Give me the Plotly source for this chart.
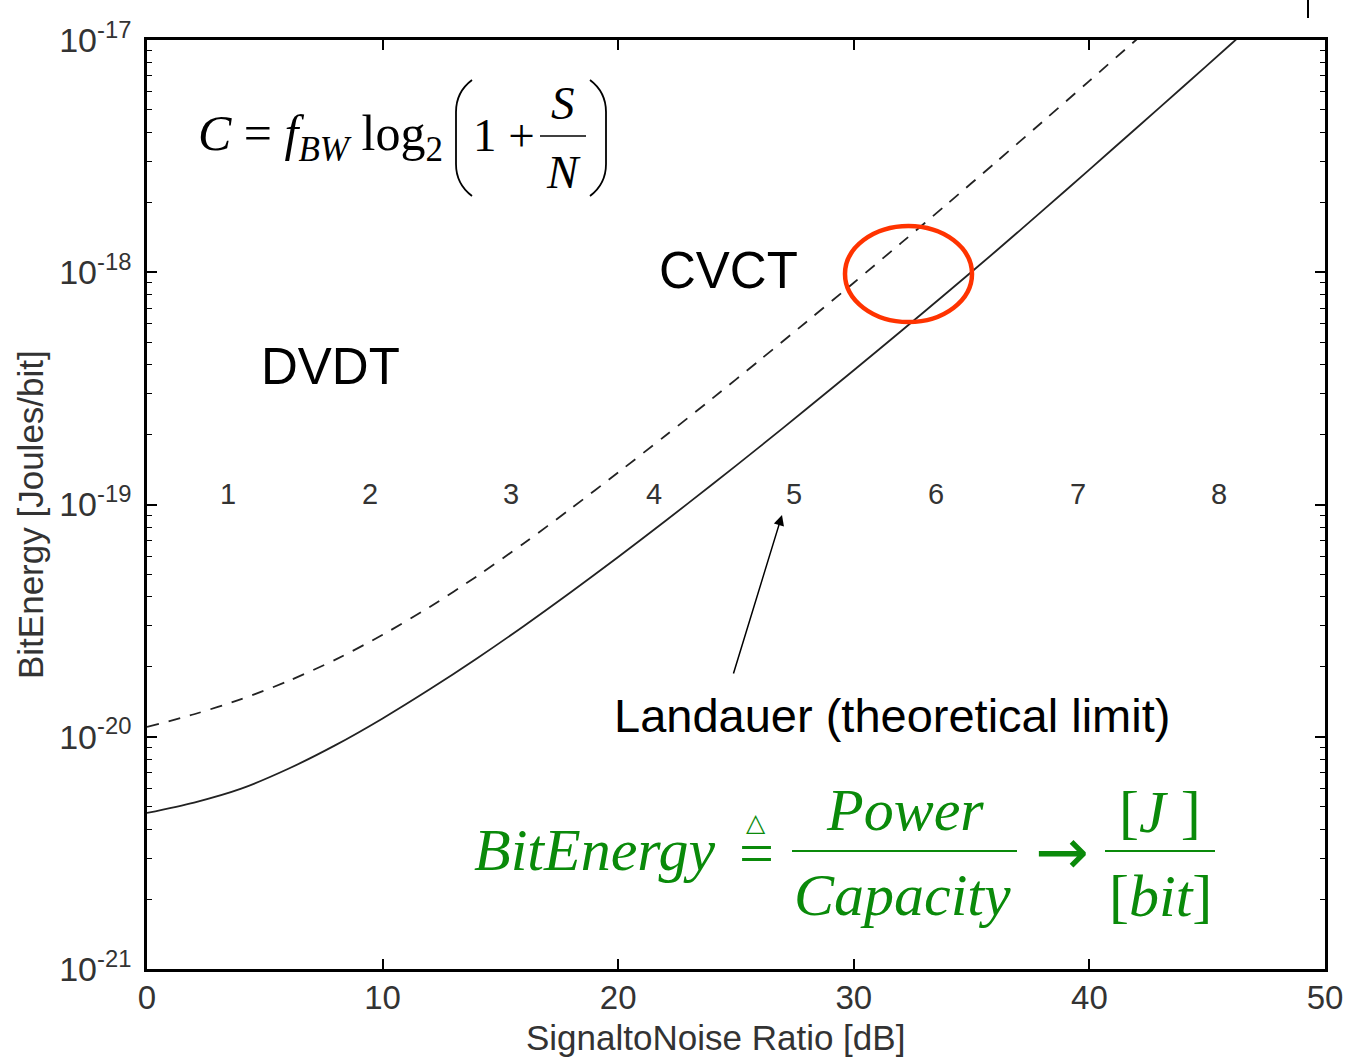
import plotly.graph_objects as go

# ---------------- data ----------------
snr_db_landauer = [0, 2, 4, 6, 8, 10, 12, 14, 16, 18, 20, 22, 24, 26, 28, 30,
                   32, 34, 36, 38, 40, 42, 44, 46, 47]
energy_landauer = [4.70e-21, 5.21e-21, 5.98e-21, 7.28e-21, 9.20e-21, 1.199e-20,
                   1.600e-20, 2.173e-20, 3.00e-20, 4.20e-20, 5.94e-20, 8.49e-20,
                   1.222e-19, 1.770e-19, 2.582e-19, 3.784e-19, 5.57e-19, 8.24e-19,
                   1.225e-18, 1.837e-18, 2.767e-18, 4.18e-18, 6.32e-18, 9.59e-18,
                   1.180e-17]

snr_db_cvct = [0, 2, 4, 6, 8, 10, 12, 14, 16, 18, 20, 22, 24, 26, 28, 30,
               32, 34, 36, 38, 40, 42, 43]
energy_cvct = [1.102e-20, 1.250e-20, 1.452e-20, 1.738e-20, 2.148e-20, 2.748e-20,
               3.622e-20, 4.909e-20, 6.808e-20, 9.616e-20, 1.374e-19, 1.977e-19,
               2.864e-19, 4.178e-19, 6.124e-19, 9.016e-19, 1.334e-18, 1.982e-18,
               2.958e-18, 4.436e-18, 6.668e-18, 1.005e-17, 1.233e-17]

bit_labels = ["1", "2", "3", "4", "5", "6", "7", "8"]
bit_label_x = [3.45, 9.45, 15.45, 21.5, 27.45, 33.5, 39.5, 45.5]

x_ticks = [0, 10, 20, 30, 40, 50]
y_tick_exps = [-21, -20, -19, -18, -17]
y_ticks = [10.0 ** e for e in y_tick_exps]
y_ticktext = ["10<sup>%d</sup>" % e for e in y_tick_exps]
y_minor = [k * 10.0 ** e for e in range(-21, -17) for k in range(2, 10)]

# ---------------- layout helpers ----------------
W, H = 1347, 1060
L, R, T, B = 147, 1325, 40, 969


def pxx(xp):
    return (xp - L) / (R - L)


def pxy(yp):
    return (B - yp) / (B - T)


SANS = "Liberation Sans, Arial, sans-serif"
SERIF = "Liberation Serif, Times New Roman, serif"
GREEN = "#0a8a0a"
GRAY = "#333333"

fig = go.Figure()
fig.add_trace(go.Scatter(x=snr_db_cvct, y=energy_cvct, mode="lines",
                         line=dict(color="#222222", width=1.8, dash="12px,10px",
                                   shape="spline", smoothing=0.8),
                         showlegend=False, name="CVCT"))
fig.add_trace(go.Scatter(x=snr_db_landauer, y=energy_landauer, mode="lines",
                         line=dict(color="#222222", width=1.8,
                                   shape="spline", smoothing=0.8),
                         showlegend=False, name="Landauer"))

ann = []


def txt(text, xp, yp, size, family=SANS, color="black", xanchor="center",
        yanchor="middle", textangle=0):
    ann.append(dict(text=text, x=pxx(xp), y=pxy(yp), xref="paper", yref="paper",
                    showarrow=False, xanchor=xanchor, yanchor=yanchor,
                    font=dict(size=size, family=family, color=color),
                    textangle=textangle))


# bit number labels along 1e-19
for lab, bx in zip(bit_labels, bit_label_x):
    ann.append(dict(text=lab, x=bx, y=-19, xref="x", yref="y", showarrow=False,
                    yanchor="middle", yshift=11,
                    font=dict(size=29, family=SANS, color=GRAY)))

txt("CVCT", 728, 270, 51)
txt("DVDT", 330, 367, 51)
txt("Landauer (theoretical limit)", 892, 715, 47)

# arrow
ann.append(dict(text="", x=pxx(782), y=pxy(515), xref="paper", yref="paper",
                showarrow=True, ax=-49, ay=160, arrowhead=2, arrowsize=1.4,
                arrowwidth=1.5, arrowcolor="black"))

# Shannon formula (top-left)
txt("<i>C</i> = <i>f</i><sub><i>BW</i></sub> log<sub>2</sub>", 196, 137, 50,
    family=SERIF, xanchor="left")
txt("1 +", 504, 135, 47, family=SERIF)
txt("<i>S</i>", 563, 103, 47, family=SERIF)
txt("<i>N</i>", 563, 172, 47, family=SERIF)

# Green BitEnergy definition
txt("<i>BitEnergy</i>", 594, 850, 60, family=SERIF, color=GREEN)
txt("=", 756, 853, 62, family=SERIF, color=GREEN)
txt("\u25B3", 756, 822, 25, family="DejaVu Sans", color=GREEN)
txt("<i>Power</i>", 905, 810, 60, family=SERIF, color=GREEN)
txt("<i>Capacity</i>", 903, 895, 60, family=SERIF, color=GREEN)
txt("\u2192", 1062, 852, 64, family="DejaVu Sans", color=GREEN)
txt("[<i>J </i>]", 1160, 812, 60, family=SERIF, color=GREEN)
txt("[<i>bit</i>]", 1160, 896, 60, family=SERIF, color=GREEN)

# axis titles
txt("SignaltoNoise Ratio [dB]", 715, 1037, 35, color=GRAY)
txt("BitEnergy [Joules/bit]", 30, 515, 35, color=GRAY, textangle=-90)

shapes = []


def line(x0, y0, x1, y1, color="black", width=2):
    shapes.append(dict(type="line", xref="paper", yref="paper",
                       x0=pxx(x0), y0=pxy(y0), x1=pxx(x1), y1=pxy(y1),
                       line=dict(color=color, width=width)))


def path(points, color="black", width=2):
    d = points[0]
    s = "M %f,%f" % (pxx(d[0]), pxy(d[1]))
    i = 1
    while i < len(points):
        p = points[i]
        if p[0] == "Q":
            c, e = p[1], p[2]
            s += " Q %f,%f %f,%f" % (pxx(c[0]), pxy(c[1]), pxx(e[0]), pxy(e[1]))
        else:
            s += " L %f,%f" % (pxx(p[0]), pxy(p[1]))
        i += 1
    shapes.append(dict(type="path", xref="paper", yref="paper", path=s,
                       line=dict(color=color, width=width)))


# fraction bars
line(540, 136, 586, 136, width=1.5)
line(792, 851, 1017, 851, color=GREEN, width=2)
line(1105, 851, 1215, 851, color=GREEN, width=2)
# big parentheses
path([(472, 80), ("Q", (456, 92), (456, 112)), (456, 164), ("Q", (456, 184), (472, 196))],
     width=1.8)
path([(590, 80), ("Q", (606, 92), (606, 112)), (606, 164), ("Q", (606, 184), (590, 196))],
     width=1.8)
# red ellipse
shapes.append(dict(type="circle", xref="paper", yref="paper",
                   x0=pxx(845), x1=pxx(972), y0=pxy(322), y1=pxy(226),
                   line=dict(color="#ff3300", width=4.5)))
# small stray mark at top right
line(1308, 0, 1308, 18, width=2)

fig.update_layout(
    width=W, height=H, autosize=False,
    margin=dict(l=L, r=W - R, t=T, b=H - B, pad=0),
    paper_bgcolor="white", plot_bgcolor="white",
    annotations=ann, shapes=shapes,
    xaxis=dict(range=[0, 50], tickmode="array", tickvals=x_ticks,
               ticks="inside", ticklen=10, tickwidth=1.5, tickcolor="black",
               showline=True, linewidth=2.5, linecolor="black", mirror="ticks",
               showgrid=False, zeroline=False, automargin=False,
               tickfont=dict(size=33, family=SANS, color=GRAY),
               ticklabelstandoff=-2),
    yaxis=dict(type="log", range=[-21, -17], tickmode="array", tickvals=y_ticks,
               ticktext=y_ticktext,
               ticks="inside", ticklen=10, tickwidth=1.5, tickcolor="black",
               showline=True, linewidth=2.5, linecolor="black", mirror="ticks",
               showgrid=False, zeroline=False, automargin=False,
               tickfont=dict(size=34, family=SANS, color=GRAY),
               ticklabelstandoff=6,
               minor=dict(tickmode="array", tickvals=y_minor, ticks="inside",
                          ticklen=5, tickwidth=1.2, tickcolor="black",
                          showgrid=False)),
)

fig.write_html("out.html")
